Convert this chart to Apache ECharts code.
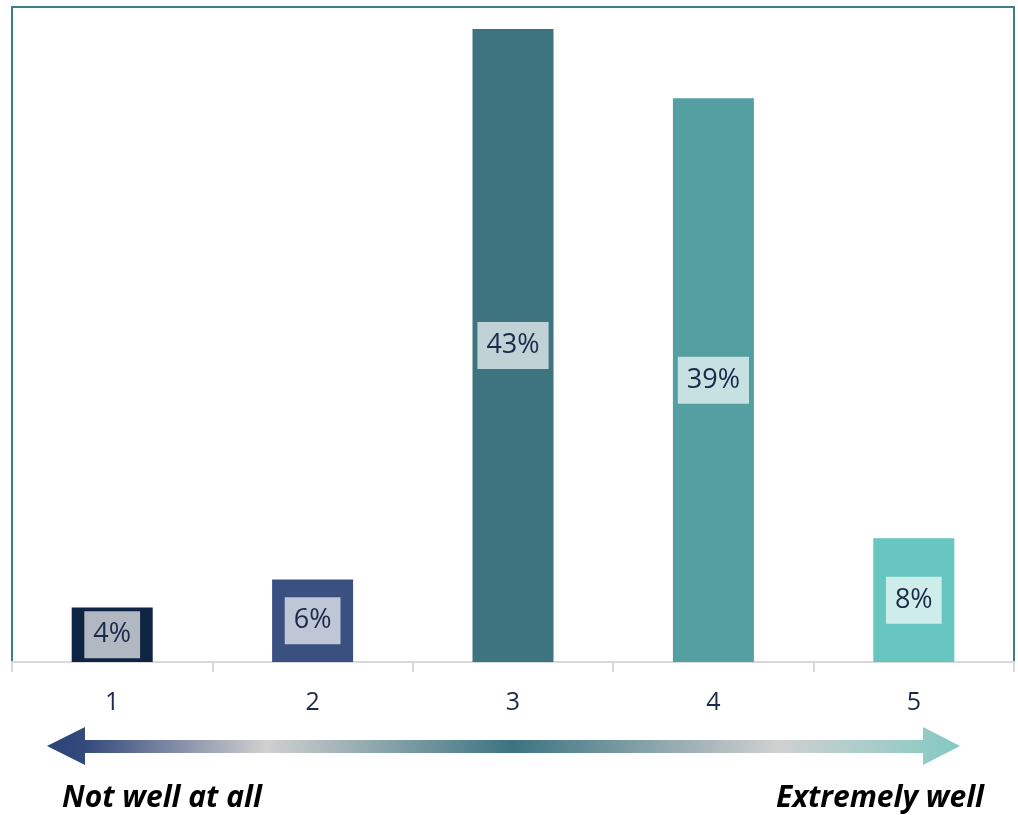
<!DOCTYPE html>
<html><head><meta charset="utf-8">
<script src="https://cdn.jsdelivr.net/npm/echarts@6/dist/echarts.min.js"></script>
<style>html,body{margin:0;padding:0;background:#fff}#c{width:1018px;height:815px}</style>
</head><body><div id="c"></div>
<script>
const categories = ['1', '2', '3', '4', '5'];
const values = [3.7, 5.6, 43, 38.3, 8.4];
const labels = ['4%', '6%', '43%', '39%', '8%'];
const barColors = ['#0f2342', '#3a5081', '#3d7480', '#539fa1', '#67c6bf'];
const leftText = 'Not well at all';
const rightText = 'Extremely well';

const chart = echarts.init(document.getElementById('c'));
chart.setOption({
  animation: false,
  grid: { left: 12, right: 4, top: 7, bottom: 153, show: true, borderColor: '#3f7d88', borderWidth: 2, backgroundColor: 'transparent' },
  xAxis: {
    type: 'category', data: categories,
    axisLine: { lineStyle: { color: '#d9d9d9', width: 2 } },
    axisTick: { show: true, length: 10, lineStyle: { color: '#d9d9d9', width: 2 } },
    axisLabel: { fontSize: 25, color: '#1c2b4b', margin: 28, fontFamily: 'Open Sans' }
  },
  yAxis: { type: 'value', min: 0, max: 44.5, show: false, splitLine: { show: false } },
  series: [{
    type: 'bar', barWidth: 81,
    data: values.map((v, i) => ({ value: v, itemStyle: { color: barColors[i] } })),
    label: {
      show: true, position: 'inside',
      formatter: p => labels[p.dataIndex],
      fontSize: 27, lineHeight: 30, color: '#1a2a4a', fontFamily: 'Open Sans',
      backgroundColor: 'rgba(255,255,255,0.68)', padding: [9, 9, 8, 9]
    }
  }],
  graphic: [
    {
      type: 'polygon',
      shape: { points: [[47, 746], [85, 727], [85, 740], [923, 740], [923, 727], [960, 746], [923, 765], [923, 753], [85, 753], [85, 765]] },
      style: {
        fill: {
          type: 'linear', x: 0, y: 0, x2: 1, y2: 0,
          colorStops: [
            { offset: 0, color: '#2b4478' },
            { offset: 0.04, color: '#33497c' },
            { offset: 0.24, color: '#d0d0d0' },
            { offset: 0.51, color: '#3b7480' },
            { offset: 0.8, color: '#d0d0d0' },
            { offset: 1, color: '#84c9c2' }
          ]
        }
      }
    },
    { type: 'text', left: 62, top: 783, style: { text: leftText, font: 'italic bold 30px "Open Sans"', fill: '#000' } },
    { type: 'text', right: 34, top: 783, style: { text: rightText, font: 'italic bold 30px "Open Sans"', fill: '#000' } }
  ]
});
</script></body></html>
